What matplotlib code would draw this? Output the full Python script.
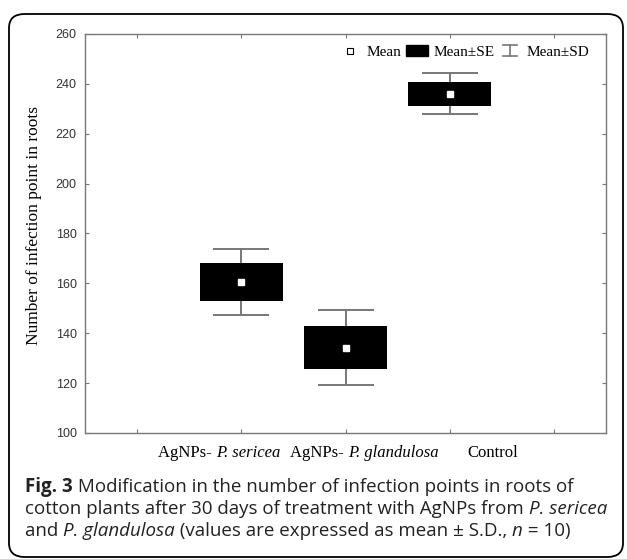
import matplotlib
matplotlib.use("Agg")
import matplotlib.pyplot as plt
import matplotlib.transforms as mtransforms
from matplotlib.patches import Patch, FancyBboxPatch
from matplotlib.lines import Line2D
from matplotlib.legend_handler import HandlerBase

# Datos
grupos = [("AgNPs- ", "P. sericea"), ("AgNPs- ", "P. glandulosa"), ("Control", "")]
medias = [160.7, 134.2, 236.0]
se = [7.6, 8.6, 4.8]
sd = [13.2, 15.0, 8.2]
posiciones = [1, 2, 3]
pos_etiquetas = [0.79, 2.18, 3.41]   # las etiquetas del original no estan centradas

gris = "#777777"


class HandlerSD(HandlerBase):
    # simbolo tipo "I" para Mean±SD
    def create_artists(self, legend, orig_handle, xd, yd, w, h, fontsize, trans):
        cx = xd + w / 2
        x0, x1 = cx - w * 0.33, cx + w * 0.33
        a = Line2D([x0, x1], [yd + h, yd + h], color=gris, lw=1.2, transform=trans)
        b = Line2D([x0, x1], [yd, yd], color=gris, lw=1.2, transform=trans)
        c = Line2D([cx, cx], [yd, yd + h], color=gris, lw=1.2, transform=trans)
        return [a, b, c]


def ancho(fig, s, **kw):
    # ancho en pixeles contando los espacios
    r = fig.canvas.get_renderer()
    t1 = fig.text(0, 0, "." + s + ".", **kw)
    t2 = fig.text(0, 0, "..", **kw)
    w = t1.get_window_extent(r).width - t2.get_window_extent(r).width
    t1.remove()
    t2.remove()
    return w


def texto_mixto(fig, x, y, partes, transform, centrado=False, **kw):
    estilos = []
    for s, est in partes:
        d = dict(kw)
        if est == "b":
            d["weight"] = "bold"
        elif est == "i":
            d["style"] = "italic"
        estilos.append(d)
    anchos = [ancho(fig, s, **d) for (s, _), d in zip(partes, estilos)]
    dx = -sum(anchos) / 2 if centrado else 0
    for (s, _), d, w in zip(partes, estilos, anchos):
        tr = mtransforms.offset_copy(transform, fig=fig, x=dx, y=0, units="dots")
        fig.text(x, y, s, transform=tr, ha="left", va="center", **d)
        dx += w


fig = plt.figure(figsize=(6.27, 5.59), dpi=100)
ax = fig.add_axes([85 / 627, 1 - 433 / 559, (606 - 85) / 627, (433 - 34) / 559])

# Cajas (media ± SE)
abajo = [m - s for m, s in zip(medias, se)]
alto = [2 * s for s in se]
ax.bar(posiciones, alto, bottom=abajo, width=0.8, color="black", zorder=2)

# Bigotes (media ± SD)
ax.errorbar(posiciones, medias, yerr=sd, fmt="none", ecolor=gris, elinewidth=1.4,
            capsize=20.5, capthick=1.4, zorder=1)

# Media
ax.plot(posiciones, medias, "s", color="white", ms=4, mec="white", zorder=3)

ax.set_xlim(-0.5, 4.5)
ax.set_ylim(100, 260)
ax.set_yticks(range(100, 261, 20))
ax.set_xticks(range(5))
ax.set_xticklabels([])
for lab in ax.get_yticklabels():
    lab.set_family("Liberation Sans")
    lab.set_fontsize(9)
    lab.set_color("#333333")
ax.tick_params(direction="in", length=3, color=gris, top=True, right=True, pad=6)
for sp in ax.spines.values():
    sp.set_color(gris)
    sp.set_linewidth(1)

ax.set_ylabel("Number of infection point in roots", family="Liberation Serif", fontsize=12.5,
              labelpad=10)
ax.yaxis.set_label_coords(-0.083, 0.52)

# Etiquetas del eje x (texto normal + cursiva)
trans_x = mtransforms.blended_transform_factory(ax.transData, ax.transAxes)
for xp, (normal, cursiva) in zip(pos_etiquetas, grupos):
    partes = [(normal, "n")] + ([(cursiva, "i")] if cursiva else [])
    texto_mixto(fig, xp, -0.05, partes, trans_x, centrado=True,
                family="Liberation Serif", fontsize=12)

h_media = Line2D([], [], marker="s", ls="none", mfc="white", mec="black", mew=0.8, ms=4.5)
h_se = Patch(facecolor="black", edgecolor="black")
h_sd = object()
leg = ax.legend([h_media, h_se, h_sd], ["Mean", "Mean±SE", "Mean±SD"], ncol=3,
                loc="upper right", bbox_to_anchor=(0.995, 1.006), frameon=False,
                handler_map={object: HandlerSD()},
                prop={"family": "Liberation Serif", "size": 11},
                handlelength=1.4, handletextpad=0.4, columnspacing=0.3)

# Pie de figura
pie = [
    [("Fig. 3", "b"), (" Modification in the number of infection points in roots of", "n")],
    [("cotton plants after 30 days of treatment with AgNPs from ", "n"), ("P. sericea", "i")],
    [("and ", "n"), ("P. glandulosa", "i"), (" (values are expressed as mean ± S.D., ", "n"),
     ("n", "i"), (" = 10)", "n")],
]
for i, linea in enumerate(pie):
    y = 1 - (487 + 22 * i) / 559
    texto_mixto(fig, 25 / 627, y, linea, fig.transFigure, family="Open Sans", fontsize=13.5,
                color="#222222")

# Marco redondeado
marco = FancyBboxPatch((9 / 627, 2 / 559), 614 / 627, 543 / 559,
                       boxstyle="round,pad=0,rounding_size=0.025",
                       transform=fig.transFigure, fill=False, edgecolor="black", lw=1.3)
fig.patches.append(marco)

fig.savefig("out.png", dpi=100)
